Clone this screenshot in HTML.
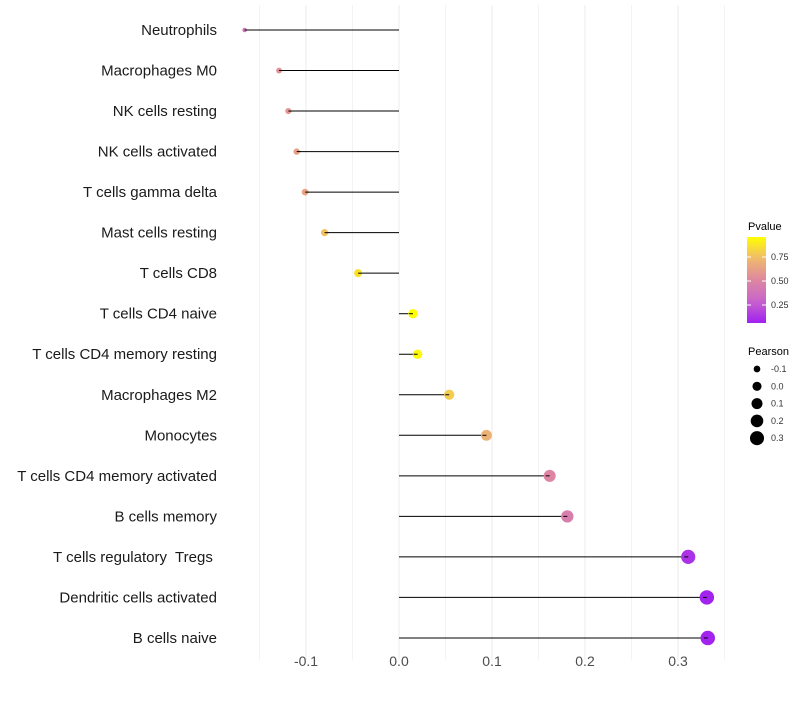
<!DOCTYPE html>
<html><head><meta charset="utf-8"><style>
body{margin:0;background:#fff;font-family:"Liberation Sans",sans-serif}
text{white-space:pre}
</style></head><body>
<svg id="c" width="800" height="700" xmlns="http://www.w3.org/2000/svg"></svg>
<script>
const categories=["Neutrophils","Macrophages M0","NK cells resting","NK cells activated","T cells gamma delta","Mast cells resting","T cells CD8","T cells CD4 naive","T cells CD4 memory resting","Macrophages M2","Monocytes","T cells CD4 memory activated","B cells memory","T cells regulatory  Tregs ","Dendritic cells activated","B cells naive"];
const pearson=[-0.166,-0.129,-0.119,-0.110,-0.101,-0.080,-0.044,0.015,0.020,0.054,0.094,0.162,0.181,0.311,0.331,0.332];
const pvalue=[0.40,0.55,0.58,0.62,0.64,0.76,0.86,0.96,0.94,0.80,0.70,0.50,0.45,0.12,0.07,0.07];
const xTicks=[-0.1,0,0.1,0.2,0.3];
const xTickLabels=["-0.1","0.0","0.1","0.2","0.3"];
const sizeLegend=[-0.1,0,0.1,0.2,0.3];
const pTicks=[0.25,0.5,0.75];

const svg=document.getElementById('c');const NS='http://www.w3.org/2000/svg';
function mk(t,a,p){const e=document.createElementNS(NS,t);for(const k in a)e.setAttribute(k,a[k]);(p||svg).appendChild(e);return e;}
const x=v=>399+v*930;
const y=i=>30+i*40.53;
const r=v=>Math.sqrt(Math.max(1.5,5+95*(v+0.166)));
function col(p){const t=Math.max(0,Math.min(1,(p-0.06)/0.9));
 const stops=[[160,32,240],[200,100,205],[222,135,160],[240,185,110],[255,255,0]];
 const s=t*4,i=Math.min(3,Math.floor(s)),f=s-i;const a=stops[i],b=stops[i+1];
 return `rgb(${a.map((c,k)=>Math.round(c+(b[k]-c)*f)).join(',')})`;}
for(let v=-0.15;v<0.36;v+=0.05){const g=mk('line',{x1:x(v),x2:x(v),y1:5,y2:660,stroke:'#ebebeb','stroke-width':Math.abs(Math.round(v*20))%2===0?1:0.6});
}
xTicks.forEach((v,i)=>{const t=mk('text',{x:x(v),y:666,'text-anchor':'middle','font-size':14,fill:'#4d4d4d'});t.textContent=xTickLabels[i];
});
categories.forEach((c,i)=>{
 const t=mk('text',{x:217,y:y(i)+5,'text-anchor':'end','font-size':15,fill:'#1a1a1a'});t.textContent=c;
 
 const l=mk('line',{x1:x(0),x2:x(pearson[i]),y1:y(i),y2:y(i),stroke:'#000','stroke-width':1});
 
 const d=mk('circle',{cx:x(pearson[i]),cy:y(i),r:r(pearson[i]),fill:col(pvalue[i])});
 
 const tk=mk('line',{x1:x(pearson[i]),x2:x(pearson[i])+(pearson[i]<0?4:-4),y1:y(i),y2:y(i),stroke:'#000','stroke-width':1});
 
});
const defs=mk('defs',{});const lg=mk('linearGradient',{id:'g',x1:0,y1:1,x2:0,y2:0},defs);
for(let k=0;k<=10;k++){mk('stop',{offset:k/10,'stop-color':col(0.06+k*0.09)},lg);}
const lt=mk('text',{x:748,y:230,'font-size':11,fill:'#000'});lt.textContent='Pvalue';

const bar=mk('rect',{x:747,y:237,width:19,height:86,fill:'url(#g)'});

const py=p=>281-(p-0.5)*96;
pTicks.forEach(p=>{mk('line',{x1:747,x2:751,y1:py(p),y2:py(p),stroke:'#fff'});mk('line',{x1:762,x2:766,y1:py(p),y2:py(p),stroke:'#fff'});
 const t=mk('text',{x:771,y:py(p)+3,'font-size':9,fill:'#333'});t.textContent=p.toFixed(2);
 });
const st=mk('text',{x:748,y:355,'font-size':11,fill:'#000'});st.textContent='Pearson';

sizeLegend.forEach((v,i)=>{const cy=369+i*17.3;
 const c=mk('circle',{cx:757,cy:cy,r:r(v),fill:'#000'});
 const t=mk('text',{x:771,y:cy+3,'font-size':9,fill:'#333'});t.textContent=v.toFixed(1);
 });
</script>
</body></html>
